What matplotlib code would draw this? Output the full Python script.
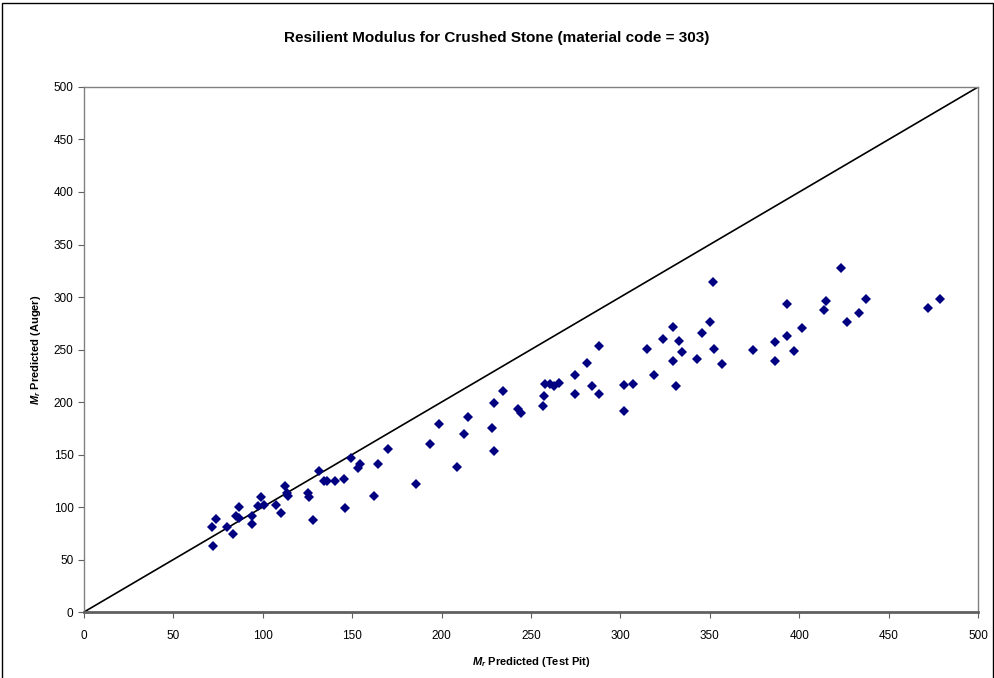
"""
Resilient modulus scatter: test pit vs auger predictions
"""
import matplotlib
matplotlib.use("Agg")
import matplotlib.pyplot as plt
import matplotlib.patches as patches

plt.rcParams['font.family'] = ['Liberation Sans', 'DejaVu Sans']
plt.rcParams['mathtext.fontset'] = 'custom'
plt.rcParams['mathtext.it'] = 'Liberation Sans:italic:bold'
plt.rcParams['mathtext.rm'] = 'Liberation Sans:bold'

test_pit = [72.0, 71.6, 73.8, 80.2, 83.5, 86.9, 84.8, 86.9, 94.1, 94.1,
            99.0, 97.5, 100.7, 107.4, 110.0, 112.6, 113.3, 113.9, 125.5, 126.1,
            128.3, 131.4, 134.4, 135.7, 140.6, 145.6, 146.0, 149.5, 154.4, 153.0,
            162.2, 164.3, 169.9, 185.7, 193.5, 198.4, 208.8, 212.3, 215.0, 228.0,
            229.3, 229.1, 234.5, 242.5, 244.2, 256.9, 257.1, 257.6, 260.6, 262.9,
            265.5, 274.8, 274.8, 281.1, 284.1, 288.2, 288.2, 302.0, 302.0, 307.2,
            314.9, 318.8, 324.0, 329.2, 329.2, 330.9, 333.0, 334.5, 342.7, 345.5,
            350.1, 351.6, 352.5, 356.8, 374.3, 386.5, 386.6, 393.2, 393.3, 397.1,
            401.7, 413.9, 414.8, 423.4, 426.7, 433.2, 437.5, 472.2, 478.9]
auger = [63.1, 81.0, 88.6, 81.0, 74.0, 99.7, 91.1, 89.8, 91.7, 84.1,
         109.5, 100.7, 101.9, 101.6, 94.0, 120.0, 113.6, 110.5, 113.3, 109.5,
         87.6, 134.0, 124.8, 124.8, 124.8, 127.0, 99.3, 147.0, 141.0, 136.9,
         110.5, 140.7, 155.0, 122.2, 160.0, 178.8, 138.4, 169.5, 186.0, 175.2,
         153.3, 199.0, 210.8, 193.3, 189.8, 196.2, 206.0, 217.4, 217.1, 215.5,
         218.4, 225.4, 207.6, 236.9, 215.0, 207.6, 253.0, 191.7, 216.2, 217.4,
         250.2, 226.0, 260.3, 238.8, 271.7, 215.0, 258.1, 247.9, 241.0, 265.7,
         275.9, 314.3, 250.8, 235.9, 249.5, 256.8, 238.8, 262.9, 293.3, 248.6,
         270.2, 287.6, 296.2, 327.3, 276.2, 285.1, 298.1, 289.5, 297.8]

line_x = [0, 500]
line_y = [0, 500]
ticks = [0, 50, 100, 150, 200, 250, 300, 350, 400, 450, 500]


def main():
    fig = plt.figure(figsize=(9.95, 6.78), dpi=100)
    ax = fig.add_axes([0.0844, 0.0973, 0.8986, 0.7744])

    # 1:1 기준선
    ax.plot(line_x, line_y, color='black', linewidth=1.2, zorder=2)

    # 데이터 점
    ax.plot(test_pit, auger, linestyle='none', marker='D', markersize=4.8,
            color='#000080', markeredgewidth=0, zorder=3)

    ax.set_xlim(0, 500)
    ax.set_ylim(0, 500)
    ax.set_xticks(ticks)
    ax.set_yticks(ticks)
    ax.tick_params(axis='both', labelsize=8.5, length=4, width=0.8,
                   direction='out', color='#606060')
    ax.tick_params(axis='x', pad=9)

    for side in ['top', 'right', 'left']:
        ax.spines[side].set_color('#808080')
        ax.spines[side].set_linewidth(1.0)
    ax.spines['bottom'].set_color('#606060')
    ax.spines['bottom'].set_linewidth(2.0)

    ax.set_xlabel(r'$M_r$ Predicted (Test Pit)', fontsize=8,
                  fontweight='bold', labelpad=9)
    ax.set_ylabel(r'$M_r$ Predicted (Auger)', fontsize=8,
                  fontweight='bold', labelpad=8)

    fig.text(0.499, 0.944, 'Resilient Modulus for Crushed Stone (material code = 303)',
             ha='center', va='center', fontsize=11, fontweight='bold')

    # 차트 외곽선
    border = patches.Rectangle((0.002, -0.01), 0.996, 1.006, transform=fig.transFigure,
                               fill=False, edgecolor='black', linewidth=1.0)
    fig.patches.append(border)

    fig.savefig('out.png', dpi=100)
    plt.close(fig)


if __name__ == "__main__":
    main()
